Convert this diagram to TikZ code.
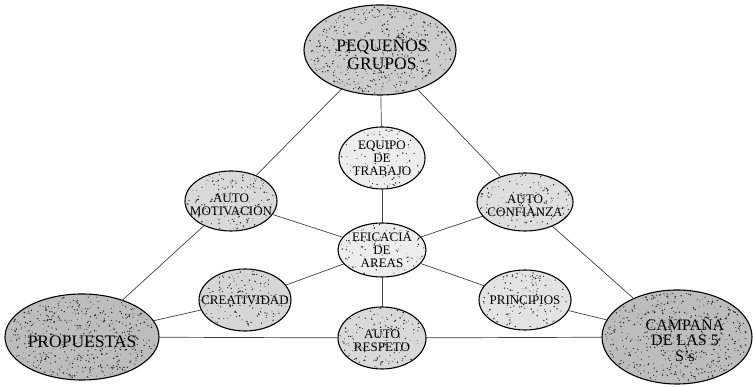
\documentclass[tikz,border=0pt]{standalone}
\usepackage{fontspec}
\setmainfont{Liberation Serif}
\usetikzlibrary{shapes.geometric,backgrounds,calc}

\tikzset{
  bubble/.style={ellipse, draw=black, line width=1.1pt, inner sep=0pt, outer sep=0pt},
  caption/.style={align=center, text=black, inner sep=0pt},
  bigtext/.style={caption, font=\fontsize{17.5}{18}\selectfont},
  midtext/.style={caption, font=\fontsize{16}{15.5}\selectfont},
  smalltext/.style={caption, font=\fontsize{13}{13}\selectfont},
  link/.style={draw=black!75, line width=0.7pt},
}

% speckled texture inside an ellipse node: name, x radius, y radius, dots, base shade
\newcommand{\stipple}[5]{%
  \fill[black!#5] (#1.center) ellipse ({#2} and {#3});
  \foreach \k in {1,...,#4}{
    \pgfmathsetmacro\stang{rnd*360}
    \pgfmathsetmacro\strad{sqrt(rnd)*0.96}
    \pgfmathsetmacro\stsz{0.3+0.55*rnd}
    \fill[black!85] ($(#1.center)+({\strad*#2*cos(\stang)},{\strad*#3*sin(\stang)})$) circle (\stsz pt);
  }}

\begin{document}
\begin{tikzpicture}[x=1pt,y=1pt]
\useasboundingbox (0,0) rectangle (753,387);
\pgfmathsetseed{4711}

% ellipses
\node[bubble,minimum width=152pt,minimum height=90pt] (pg) at (380,337) {};
\node[bubble,minimum width=86pt,minimum height=62pt] (eq) at (382,229) {};
\node[bubble,minimum width=92pt,minimum height=60pt] (am) at (231,186) {};
\node[bubble,minimum width=96pt,minimum height=58pt] (ac) at (525,185) {};
\node[bubble,minimum width=88pt,minimum height=54pt] (ef) at (382,137) {};
\node[bubble,minimum width=92pt,minimum height=62pt] (cr) at (245,87) {};
\node[bubble,minimum width=92pt,minimum height=60pt] (pr) at (525,87) {};
\node[bubble,minimum width=88pt,minimum height=62pt] (ar) at (382,49) {};
\node[bubble,minimum width=154pt,minimum height=86pt] (pp) at (82,50) {};
\node[bubble,minimum width=150pt,minimum height=94pt] (cp) at (677,50) {};

% labels
\node[bigtext] (pgt) at ($(pg)+(2,-3)$) {PEQUEÑOS\\GRUPOS};
\node[smalltext] (eqt) at (eq) {EQUIPO\\DE\\TRABAJO};
\node[smalltext] (amt) at ($(am)+(0,-4)$) {AUTO\\MOTIVACIÓN};
\node[smalltext] (act) at ($(ac)+(0,-4)$) {AUTO\\CONFIANZA};
\node[smalltext] (eft) at (ef) {EFICACIA\\DE\\AREAS};
\node[smalltext] (crt) at (cr) {CREATIVIDAD};
\node[smalltext] (prt) at (pr) {PRINCIPIOS};
\node[smalltext] (art) at ($(ar)+(0,-3)$) {AUTO\\RESPETO};
\node[bigtext] (ppt) at ($(pp)+(0,-5)$) {PROPUESTAS};
\node[midtext] (cpt) at ($(cp)+(8,-2)$) {CAMPAÑA\\DE LAS 5\\S's};

% connectors
\draw[link] (pg) -- (am);
\draw[link] (pg) -- (ac);
\draw[link] (pg) -- (eq);
\draw[link] (eq) -- (ef);
\draw[link] (ef) -- (am);
\draw[link] (ef) -- (ac);
\draw[link] (ef) -- (cr);
\draw[link] (ef) -- (pr);
\draw[link] (ef) -- (ar);
\draw[link] (am) -- (pp);
\draw[link] (ac) -- (cp);
\draw[link] (cr) -- (pp);
\draw[link] (pr) -- (cp);
\draw[link] (pp) -- (ar);
\draw[link] (ar) -- (cp);

% speckled fills behind the text
\begin{scope}[on background layer]
  \stipple{pg}{76}{45}{500}{20}
  \stipple{pp}{77}{43}{550}{26}
  \stipple{cp}{75}{47}{550}{26}
  \stipple{eq}{43}{31}{90}{7}
  \stipple{ef}{44}{27}{90}{7}
  \stipple{am}{46}{30}{160}{15}
  \stipple{ac}{48}{29}{150}{13}
  \stipple{cr}{46}{31}{170}{16}
  \stipple{pr}{46}{30}{130}{11}
  \stipple{ar}{44}{31}{160}{15}
\end{scope}
\end{tikzpicture}
\end{document}
